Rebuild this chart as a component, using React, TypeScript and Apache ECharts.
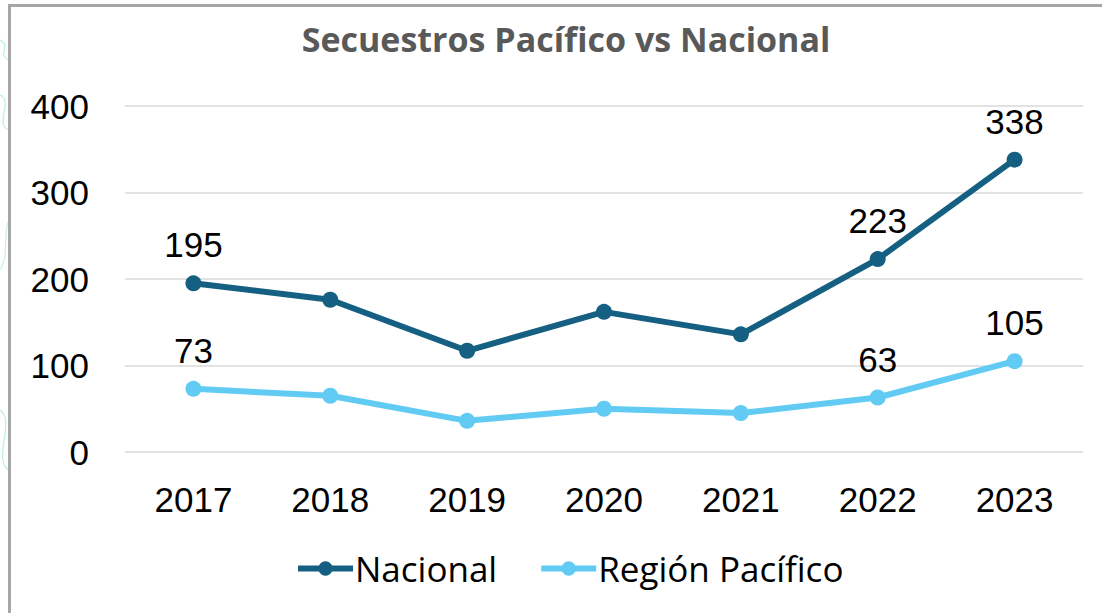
import React, { useEffect, useRef } from "react";
import * as echarts from "echarts";

const years = ["2017", "2018", "2019", "2020", "2021", "2022", "2023"];
const nacional = [195, 176, 117, 162, 136, 223, 338];
const pacifico = [73, 65, 36, 50, 45, 63, 105];
const labeledYears = ["2017", "2022", "2023"];
const yTicks = { min: 0, max: 400, interval: 100 };
const titleText = "Secuestros Pacífico vs Nacional";
const seriesNames = ["Nacional", "Región Pacífico"];

const COLOR_NAC = "#156082";
const COLOR_PAC = "#61CBF3";

function withLabels(values: number[]) {
  return values.map((v, i) => ({
    value: v,
    label: { show: labeledYears.includes(years[i]) },
  }));
}

export default function App() {
  const ref = useRef<HTMLDivElement>(null);
  useEffect(() => {
    document.body.style.margin = "0";
    if (!ref.current) return;
    const chart = echarts.init(ref.current, undefined, { renderer: "svg" });
    const labelStyle = {
      position: "top" as const,
      distance: 13,
      fontFamily: "Liberation Sans, Arial, sans-serif",
      fontSize: 35,
      color: "#000",
    };
    chart.setOption({
      animation: false,
      backgroundColor: "#ffffff",
      graphic: [
        {
          type: "bezierCurve",
          silent: true,
          z: -10,
          shape: { x1: 0, y1: 40, x2: 9, y2: 60, cpx1: 12, cpy1: 45, cpx2: -4, cpy2: 55 },
          style: { stroke: "#bdeee8", lineWidth: 1.2, fill: "none" },
        },
        {
          type: "bezierCurve",
          silent: true,
          z: -10,
          shape: { x1: 0, y1: 95, x2: 9, y2: 130, cpx1: 14, cpy1: 100, cpx2: -6, cpy2: 125 },
          style: { stroke: "#bdeee8", lineWidth: 1.2, fill: "none" },
        },
        {
          type: "bezierCurve",
          silent: true,
          z: -10,
          shape: { x1: 0, y1: 270, x2: 9, y2: 220, cpx1: 10, cpy1: 255, cpx2: 2, cpy2: 235 },
          style: { stroke: "#c6f0eb", lineWidth: 1.2, fill: "none" },
        },
        {
          type: "bezierCurve",
          silent: true,
          z: -10,
          shape: { x1: 0, y1: 410, x2: 9, y2: 470, cpx1: 16, cpy1: 420, cpx2: -8, cpy2: 460 },
          style: { stroke: "#bdeee8", lineWidth: 1.2, fill: "none" },
        },
        {
          type: "rect",
          silent: true,
          z: -5,
          shape: { x: 9.5, y: 5.5, width: 1200, height: 700 },
          style: { fill: "#ffffff", stroke: "#a6a6a6", lineWidth: 3 },
        },
      ],
      title: {
        text: titleText,
        left: 561,
        top: 17,
        textAlign: "center",
        textStyle: {
          fontFamily: "Open Sans, sans-serif",
          fontWeight: "bold",
          fontSize: 34,
          color: "#595959",
        },
      },
      legend: {
        left: 290,
        top: 546,
        itemWidth: 55,
        itemHeight: 18,
        itemGap: 41,
        lineStyle: { width: 6 },
        textStyle: {
          fontFamily: "Open Sans, sans-serif",
          fontSize: 35,
          color: "#000",
          padding: [0, 0, 0, -3],
        },
        data: seriesNames,
      },
      grid: { left: 125, right: 19, top: 106, bottom: 161, containLabel: false },
      xAxis: {
        type: "category",
        data: years,
        boundaryGap: true,
        axisLine: { show: false },
        axisTick: { show: false },
        axisLabel: {
          margin: 30,
          fontFamily: "Liberation Sans, Arial, sans-serif",
          fontSize: 35,
          color: "#000",
        },
      },
      yAxis: {
        type: "value",
        min: yTicks.min,
        max: yTicks.max,
        interval: yTicks.interval,
        axisLine: { show: false },
        axisTick: { show: false },
        splitLine: { lineStyle: { color: "#d9d9d9", width: 1.5 } },
        axisLabel: {
          margin: 36,
          fontFamily: "Liberation Sans, Arial, sans-serif",
          fontSize: 35,
          color: "#000",
        },
      },
      series: [
        {
          name: seriesNames[0],
          type: "line",
          data: withLabels(nacional),
          symbol: "circle",
          symbolSize: 16,
          lineStyle: { color: COLOR_NAC, width: 6 },
          itemStyle: { color: COLOR_NAC },
          label: labelStyle,
          z: 3,
        },
        {
          name: seriesNames[1],
          type: "line",
          data: withLabels(pacifico),
          symbol: "circle",
          symbolSize: 16,
          lineStyle: { color: COLOR_PAC, width: 6 },
          itemStyle: { color: COLOR_PAC },
          label: labelStyle,
          z: 2,
        },
      ],
    });
    return () => chart.dispose();
  }, []);
  return <div ref={ref} style={{ width: 1102, height: 613 }} />;
}
